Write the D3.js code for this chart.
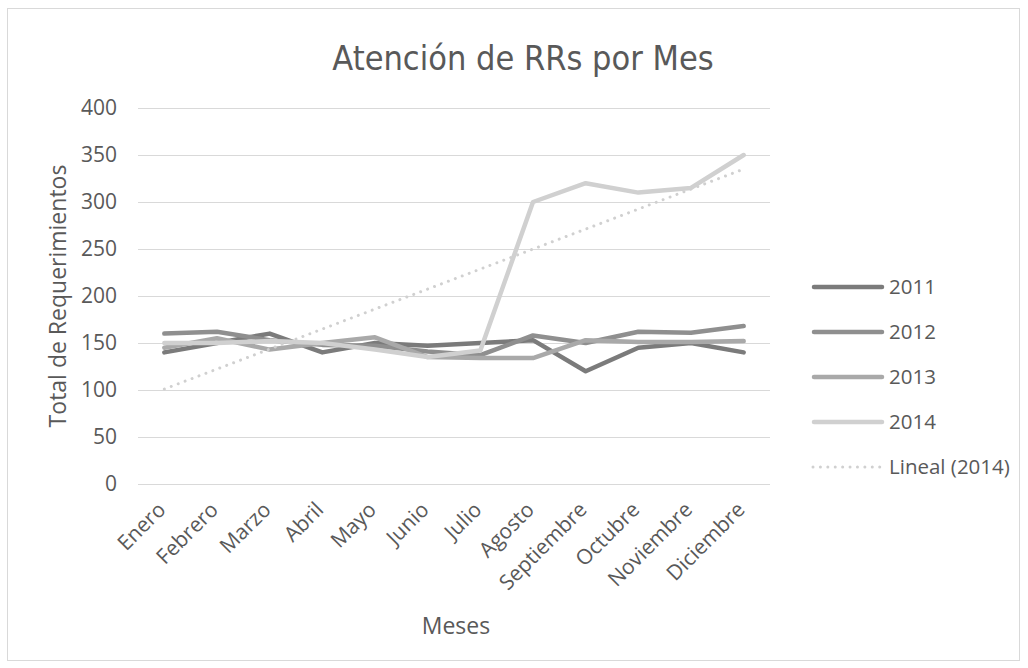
<!DOCTYPE html>
<html>
<head>
<meta charset="utf-8">
<script src="https://cdn.jsdelivr.net/npm/d3@7"></script>
<style>
  html, body { margin: 0; padding: 0; background: #fff; }
  text { font-family: "Open Sans", "Noto Sans", sans-serif; fill: #595959; }
</style>
</head>
<body>
<svg id="chart" width="1028" height="668"></svg>
<script>
const months = ["Enero","Febrero","Marzo","Abril","Mayo","Junio","Julio","Agosto","Septiembre","Octubre","Noviembre","Diciembre"];
const yTicks = [0, 50, 100, 150, 200, 250, 300, 350, 400];
const seriesNames = ["2011", "2012", "2013", "2014"];
const v2011 = [140, 150, 160, 140, 150, 147, 150, 153, 120, 145, 150, 140];
const v2012 = [160, 162, 153, 148, 147, 141, 137, 158, 150, 162, 161, 168];
const v2013 = [145, 155, 143, 150, 156, 135, 134, 134, 153, 151, 151, 152];
const v2014 = [150, 150, 152, 150, 143, 135, 142, 300, 320, 310, 315, 350];
// Linear trendline of 2014 (value at Enero, value at Diciembre)
const trend2014 = [101, 335];
const trendName = "Lineal (2014)";
const colors = ["#7b7b7b", "#8f8f8f", "#a9a9a9", "#d0d0d0"];

const svg = d3.select("#chart");
svg.append("rect").attr("x", 0).attr("y", 0).attr("width", 1028).attr("height", 668).attr("fill", "#fff");
svg.append("rect").attr("x", 7.5).attr("y", 8.5).attr("width", 1012).attr("height", 652)
  .attr("fill", "none").attr("stroke", "#d9d9d9").attr("stroke-width", 1);

const L = 138, R = 770, T = 108, B = 484;
const x = d3.scalePoint().domain(months).range([L, R]).padding(0.5);
const y = d3.scaleLinear().domain([0, 400]).range([B, T]);

// gridlines
svg.append("g").selectAll("line").data(yTicks).join("line")
  .attr("x1", L).attr("x2", R)
  .attr("y1", d => Math.round(y(d)) + 0.5).attr("y2", d => Math.round(y(d)) + 0.5)
  .attr("stroke", "#d9d9d9").attr("stroke-width", 1);

// y axis labels
const yAxis = d3.axisLeft(y).tickValues(yTicks).tickSize(0).tickPadding(0);
const gy = svg.append("g").attr("transform", `translate(${117},0)`).call(yAxis);
gy.select(".domain").remove();
gy.selectAll("text").style("font-size", "21px").style("font-family", "'Open Sans', sans-serif").attr("fill", "#595959");

// x axis labels
const xAxis = d3.axisBottom(x).tickSize(0).tickPadding(0);
const gx = svg.append("g").attr("transform", `translate(0,${B})`).call(xAxis);
gx.select(".domain").remove();
gx.selectAll("text")
  .style("font-size", "21px").style("font-family", "'Open Sans', sans-serif").attr("fill", "#595959")
  .attr("text-anchor", "end").attr("dy", null).attr("y", 0)
  .attr("transform", "translate(2,27) rotate(-45)");

// lines
const line = d3.line().x((d, i) => x(months[i])).y(d => y(d));
const allSeries = [v2011, v2012, v2013, v2014];
svg.append("g").selectAll("path").data(allSeries).join("path")
  .attr("d", d => line(d))
  .attr("fill", "none")
  .attr("stroke", (d, i) => colors[i])
  .attr("stroke-width", 4.5)
  .attr("stroke-linejoin", "round")
  .attr("stroke-linecap", "round");

// trendline
svg.append("line")
  .attr("x1", x(months[0])).attr("x2", x(months[months.length - 1]))
  .attr("y1", y(trend2014[0])).attr("y2", y(trend2014[1]))
  .attr("stroke", "#d0d0d0").attr("stroke-width", 3)
  .attr("stroke-dasharray", "0.01 7.4").attr("stroke-linecap", "round");

// title
svg.append("text").attr("x", 523).attr("y", 70).attr("text-anchor", "middle")
  .style("font-family", "'Liberation Sans Narrow', 'DejaVu Sans Condensed', sans-serif")
  .style("font-size", "34px").attr("fill", "#636363").text("Atención de RRs por Mes");

// axis titles
svg.append("text").attr("transform", "translate(66,296) rotate(-90)").attr("text-anchor", "middle")
  .style("font-size", "23px").text("Total de Requerimientos");
svg.append("text").attr("x", 456).attr("y", 634).attr("text-anchor", "middle")
  .style("font-size", "23px").text("Meses");

// legend
const legY = [287, 332, 377, 422, 467];
const leg = svg.append("g");
seriesNames.forEach((name, i) => {
  leg.append("line").attr("x1", 814).attr("x2", 882).attr("y1", legY[i]).attr("y2", legY[i])
    .attr("stroke", colors[i]).attr("stroke-width", 4.5).attr("stroke-linecap", "round");
  leg.append("text").attr("x", 889).attr("y", legY[i] + 7).style("font-size", "20.5px").text(name);
});
leg.append("line").attr("x1", 813).attr("x2", 883).attr("y1", legY[4]).attr("y2", legY[4])
  .attr("stroke", "#d0d0d0").attr("stroke-width", 3)
  .attr("stroke-dasharray", "0.01 7.4").attr("stroke-linecap", "round");
leg.append("text").attr("x", 889).attr("y", legY[4] + 7).style("font-size", "20.5px").text(trendName);
</script>
</body>
</html>
